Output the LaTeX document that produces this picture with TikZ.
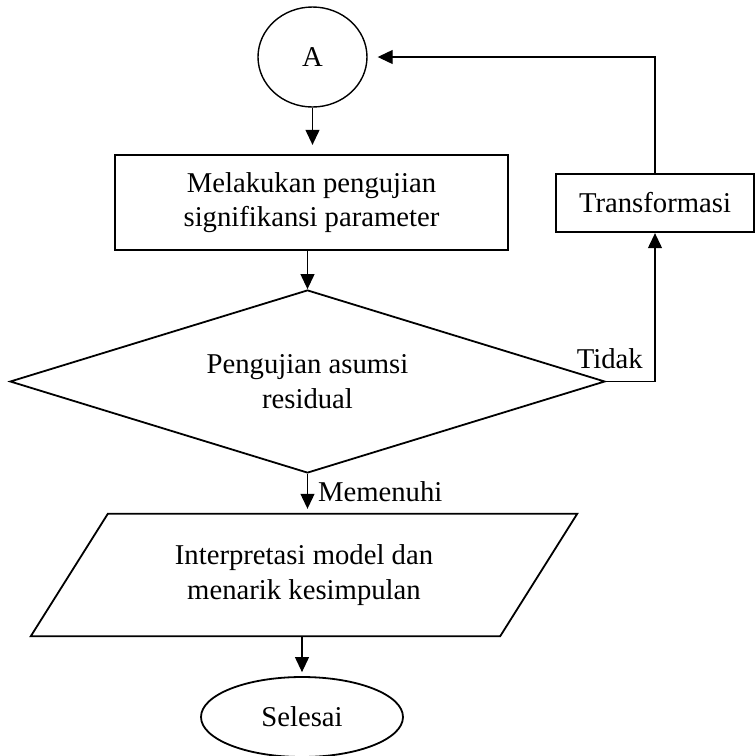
\documentclass[tikz,border=0pt]{standalone}
\usepackage{fontspec}
\setmainfont{Liberation Serif}
\usetikzlibrary{shapes.geometric,arrows.meta,calc}
\begin{document}
\begin{tikzpicture}[x=1pt,y=-1pt,
  every node/.style={font=\fontsize{28.7}{34.5}\selectfont, inner sep=0pt, align=center},
  shapeline/.style={draw, line width=1.8pt},
  arr/.style={-{Triangle[length=15pt,width=14pt]}, line width=1.1pt},
  plain/.style={line width=1.1pt}]
\useasboundingbox (0,0) rectangle (755,756);
\node[shapeline, line width=1.4pt, ellipse, minimum width=109, minimum height=100] (A) at (312.5,57) {A};
\node[shapeline, line width=2.3pt, rectangle, minimum width=393, minimum height=95] (box1) at (311.5,202.5) {Melakukan pengujian\\signifikansi parameter};
\node[shapeline, diamond, aspect=3.25, minimum width=595, minimum height=183] (dia) at (307.5,381.5) {Pengujian asumsi\\residual};
\node[shapeline, line width=2.3pt, rectangle, minimum width=198, minimum height=58] (trans) at (655,203) {Transformasi};
\node[rectangle, minimum width=469, minimum height=122] (para) at (304,575) {Interpretasi model dan\\menarik kesimpulan};
\draw[shapeline] ($(para.north west)+(38.5,0)$) -- ($(para.north east)+(38.5,0)$) -- ($(para.south east)+(-38.5,0)$) -- ($(para.south west)+(-38.5,0)$) -- cycle;
\node[shapeline, ellipse, minimum width=202, minimum height=80] (sel) at (302,717) {Selesai};
\draw[arr, shorten >=9pt] (A.south) -- (A.south |- box1.north);
\draw[arr] (dia.north |- box1.south) -- (dia.north);
\draw[arr, shorten >=5pt] (dia.south) -- (dia.south |- para.north) node[pos=0.45, right=10pt] (mem) {Memenuhi};
\draw[arr, shorten >=4pt] (sel.north |- para.south) -- (sel.north);
\draw[arr] (dia.east) -| (trans.south);
\node[anchor=south east] (tidak) at ($(dia.east)+(37,-13)$) {Tidak};
\draw[arr, shorten >=10pt] (trans.north) |- (A.east);
\end{tikzpicture}
\end{document}
